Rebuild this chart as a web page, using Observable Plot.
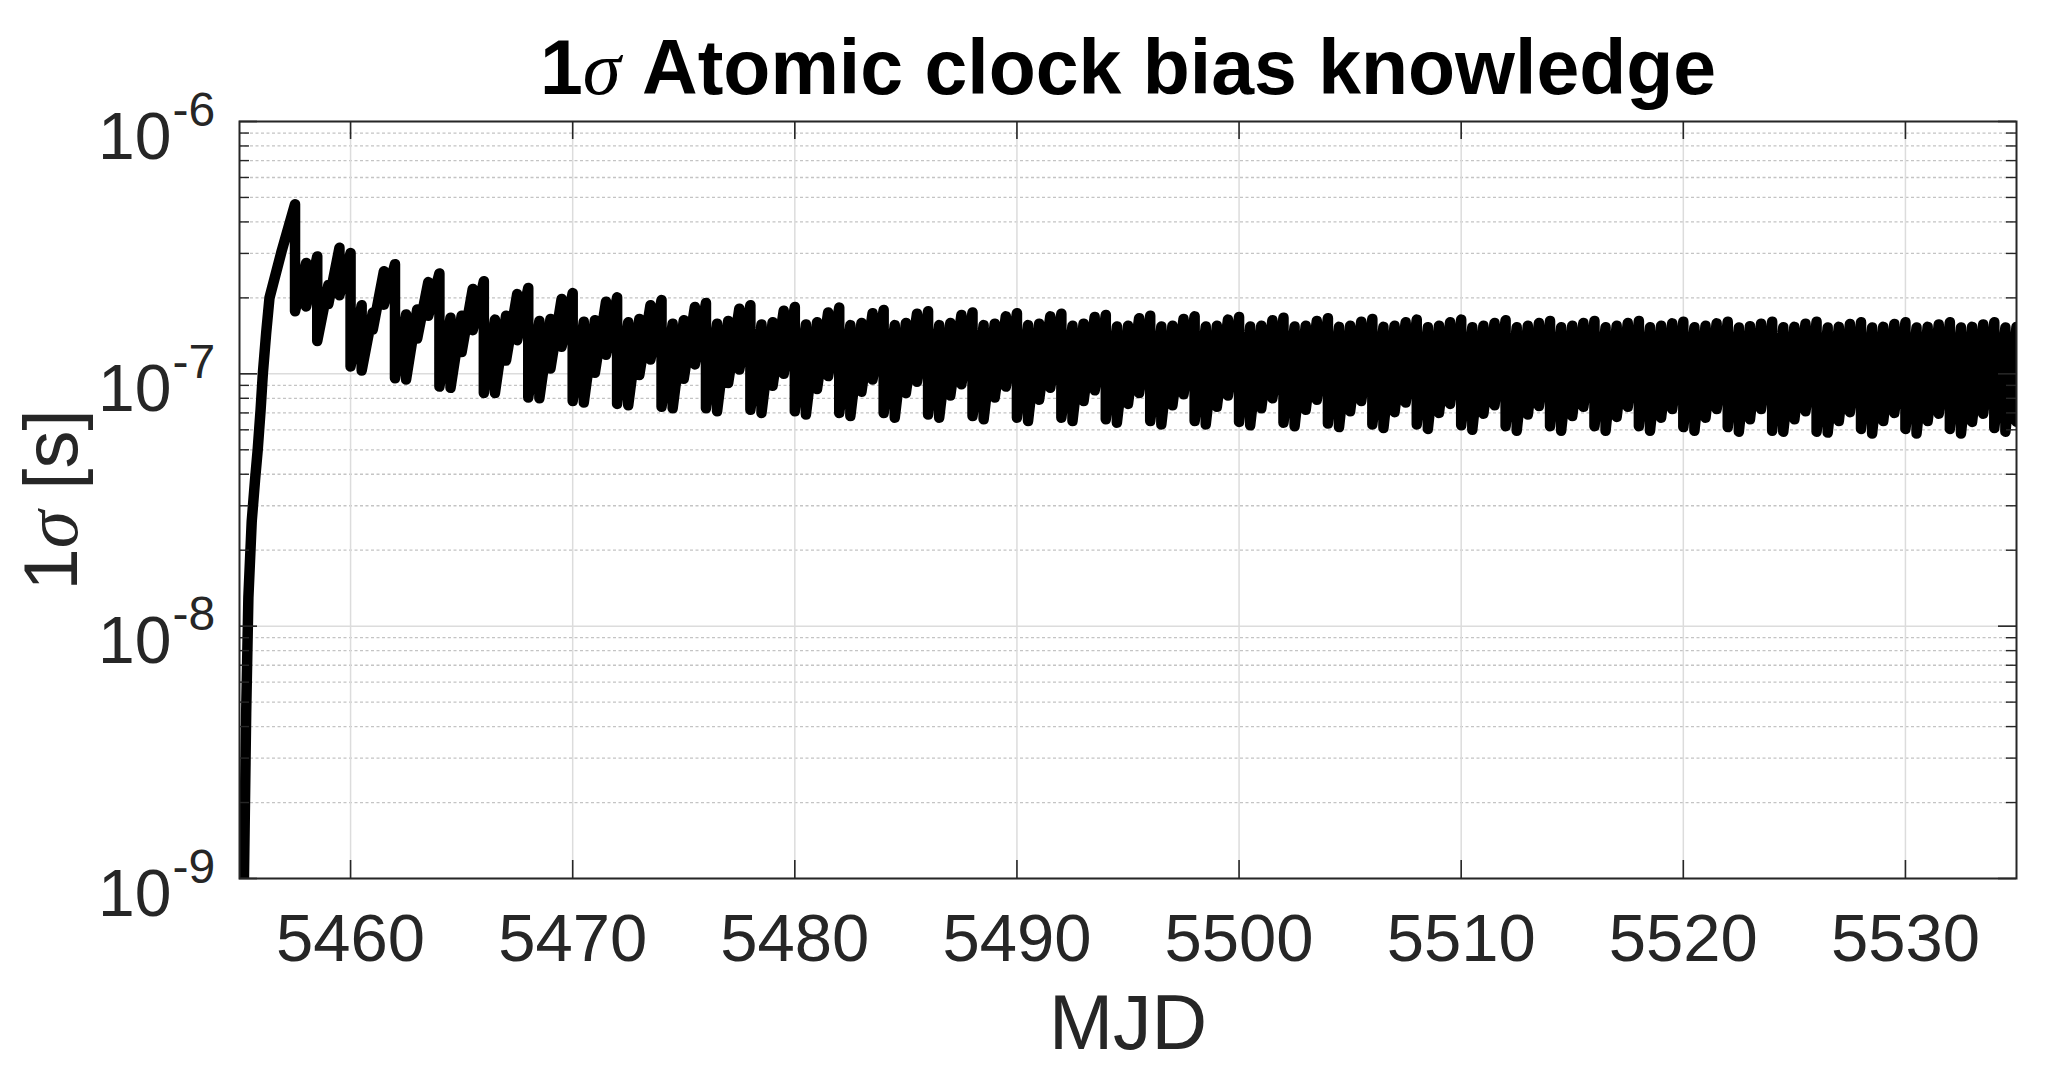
<!DOCTYPE html>
<html>
<head>
<meta charset="utf-8">
<script src="https://cdn.jsdelivr.net/npm/d3@7"></script>
<script src="https://cdn.jsdelivr.net/npm/@observablehq/plot@0.6"></script>
<style>
  html, body { margin: 0; padding: 0; background: #ffffff; }
  #chart svg { display: block; }
</style>
</head>
<body>
<div id="chart"></div>
<script>
// ---------------- DATA ----------------
const titleText = "1σ Atomic clock bias knowledge";
const xLabel = "MJD";
const yLabel = "1σ [s]";

// initial convergence (MJD, 1-sigma in s)
const transientMJD   = [5455.12, 5455.2, 5455.3, 5455.4, 5455.55, 5455.7, 5455.82, 5455.95, 5456.05, 5456.2, 5456.35, 5456.9];
const transientSigma = [4e-10, 1.0e-9, 4.5e-9, 1.3e-8, 2.6e-8, 3.8e-8, 5.0e-8, 7.2e-8, 1.0e-7, 1.45e-7, 2.0e-7, 3.07e-7];

// half-day update cycles: first update epoch and spacing (days)
const firstUpdateMJD = 5457.5;
const updateStep = 0.5;
// sigma just before each update (peak) and just after it (trough)
const peakSigma = [
  4.7e-7, 2.75e-7, 2.92e-7, 2.25e-7,
  3.16e-7, 3.01e-7, 1.87e-7, 1.75e-7,
  2.55e-7, 2.72e-7, 1.72e-7, 1.80e-7,
  2.31e-7, 2.50e-7, 1.67e-7, 1.70e-7,
  2.17e-7, 2.33e-7, 1.64e-7, 1.70e-7,
  2.07e-7, 2.19e-7, 1.62e-7, 1.65e-7,
  1.98e-7, 2.09e-7, 1.61e-7, 1.63e-7,
  1.93e-7, 2.01e-7, 1.60e-7, 1.65e-7,
  1.87e-7, 1.96e-7, 1.58e-7, 1.63e-7,
  1.84e-7, 1.91e-7, 1.58e-7, 1.62e-7,
  1.81e-7, 1.87e-7, 1.57e-7, 1.60e-7,
  1.78e-7, 1.84e-7, 1.57e-7, 1.60e-7,
  1.75e-7, 1.83e-7, 1.56e-7, 1.59e-7,
  1.74e-7, 1.79e-7, 1.56e-7, 1.59e-7,
  1.73e-7, 1.77e-7, 1.56e-7, 1.59e-7,
  1.71e-7, 1.75e-7, 1.56e-7, 1.58e-7,
  1.69e-7, 1.74e-7, 1.56e-7, 1.58e-7,
  1.69e-7, 1.73e-7, 1.55e-7, 1.58e-7,
  1.68e-7, 1.71e-7, 1.54e-7, 1.55e-7,
  1.66e-7, 1.70e-7, 1.54e-7, 1.55e-7,
  1.65e-7, 1.69e-7, 1.54e-7, 1.55e-7,
  1.64e-7, 1.68e-7, 1.54e-7, 1.55e-7,
  1.63e-7, 1.67e-7, 1.54e-7, 1.55e-7,
  1.62e-7, 1.66e-7, 1.535e-7, 1.55e-7,
  1.61e-7, 1.65e-7, 1.535e-7, 1.55e-7,
  1.60e-7, 1.64e-7, 1.53e-7, 1.55e-7,
  1.60e-7, 1.64e-7, 1.53e-7, 1.55e-7,
  1.59e-7, 1.63e-7, 1.53e-7, 1.55e-7,
  1.59e-7, 1.62e-7, 1.53e-7, 1.55e-7,
  1.59e-7, 1.62e-7, 1.53e-7, 1.55e-7,
  1.59e-7, 1.62e-7, 1.53e-7, 1.55e-7,
  1.585e-7, 1.61e-7, 1.53e-7, 1.55e-7,
  1.585e-7, 1.61e-7, 1.525e-7, 1.545e-7,
  1.58e-7, 1.61e-7, 1.53e-7, 1.535e-7,
  1.58e-7, 1.61e-7, 1.525e-7, 1.535e-7,
  1.575e-7, 1.60e-7, 1.525e-7, 1.535e-7,
  1.575e-7, 1.60e-7, 1.525e-7, 1.535e-7,
  1.57e-7, 1.60e-7, 1.525e-7, 1.535e-7,
  1.57e-7, 1.60e-7, 1.525e-7, 1.535e-7
];
const troughSigma = [
  1.77e-7, 1.85e-7, 1.35e-7, 1.89e-7,
  2.05e-7, 1.07e-7, 1.03e-7, 1.50e-7,
  1.88e-7, 9.6e-8, 9.5e-8, 1.38e-7,
  1.70e-7, 8.9e-8, 8.8e-8, 1.22e-7,
  1.49e-7, 8.4e-8, 8.4e-8, 1.13e-7,
  1.36e-7, 8.06e-8, 8.0e-8, 1.05e-7,
  1.28e-7, 7.8e-8, 7.7e-8, 1.01e-7,
  1.19e-7, 7.6e-8, 7.5e-8, 9.9e-8,
  1.14e-7, 7.4e-8, 7.3e-8, 9.56e-8,
  1.09e-7, 7.3e-8, 7.1e-8, 9.2e-8,
  1.04e-7, 7.2e-8, 7.0e-8, 8.97e-8,
  1.00e-7, 7.1e-8, 6.9e-8, 8.7e-8,
  9.8e-8, 7.0e-8, 6.8e-8, 8.5e-8,
  9.5e-8, 6.99e-8, 6.7e-8, 8.4e-8,
  9.3e-8, 6.9e-8, 6.7e-8, 8.2e-8,
  9.1e-8, 6.8e-8, 6.6e-8, 8.06e-8,
  8.9e-8, 6.7e-8, 6.5e-8, 7.9e-8,
  8.8e-8, 6.7e-8, 6.5e-8, 7.8e-8,
  8.6e-8, 6.6e-8, 6.4e-8, 7.6e-8,
  8.4e-8, 6.5e-8, 6.3e-8, 7.5e-8,
  8.3e-8, 6.5e-8, 6.3e-8, 7.4e-8,
  8.2e-8, 6.45e-8, 6.25e-8, 7.3e-8,
  8.0e-8, 6.4e-8, 6.2e-8, 7.2e-8,
  7.9e-8, 6.35e-8, 6.15e-8, 7.1e-8,
  7.8e-8, 6.3e-8, 6.1e-8, 7.05e-8,
  7.7e-8, 6.3e-8, 6.05e-8, 7.0e-8,
  7.6e-8, 6.25e-8, 6.0e-8, 6.95e-8,
  7.5e-8, 6.2e-8, 5.95e-8, 6.9e-8,
  7.45e-8, 6.2e-8, 5.95e-8, 6.8e-8,
  7.4e-8, 6.2e-8, 5.95e-8, 6.75e-8,
  7.4e-8, 6.2e-8, 5.95e-8, 6.7e-8,
  7.25e-8, 6.15e-8, 5.95e-8, 6.7e-8,
  7.25e-8, 6.15e-8, 5.9e-8, 6.6e-8,
  7.25e-8, 5.95e-8, 5.9e-8, 6.6e-8,
  7.1e-8, 5.9e-8, 5.85e-8, 6.5e-8,
  7.05e-8, 6.05e-8, 5.8e-8, 6.5e-8,
  7.0e-8, 6.05e-8, 5.8e-8, 6.5e-8,
  6.95e-8, 6.05e-8, 5.8e-8, 6.45e-8,
  6.95e-8, 6.1e-8, 5.9e-8, 6.45e-8
];
const endMJD = 5535.3;
const endSigma = 8.5e-8;

// axes
const xDomain = [5455, 5535];
const yDomain = [1e-9, 1e-6];
const xTicks = [5460, 5470, 5480, 5490, 5500, 5510, 5520, 5530];
const yTicks = [1e-9, 1e-8, 1e-7, 1e-6];
const yTickExponents = ["-9", "-8", "-7", "-6"];
const minorMantissas = [2, 3, 4, 5, 6, 7, 8, 9];
const minorDecades = [1e-9, 1e-8, 1e-7];

// ---------------- TABLE ----------------
const rows = [];
transientMJD.forEach((d, i) => rows.push({mjd: d, sigma: transientSigma[i]}));
peakSigma.forEach((p, i) => {
  const t = firstUpdateMJD + i * updateStep;
  rows.push({mjd: t, sigma: p});
  rows.push({mjd: t, sigma: troughSigma[i]});
});
rows.push({mjd: endMJD, sigma: endSigma});

const yMinor = [];
minorDecades.forEach(dec => minorMantissas.forEach(m => yMinor.push(m * dec)));
const expOf = new Map(yTicks.map((v, i) => [v, yTickExponents[i]]));

// ---------------- LAYOUT ----------------
const W = 2059, H = 1069;
const mL = 239, mR = 43, mT = 121, mB = 191;
const pw = W - mL - mR, ph = H - mT - mB;
const majorTick = 18, minorTick = 10;
const ink = "#262626";
const font = "'Liberation Sans', Arial, Helvetica, sans-serif";

const svg = Plot.plot({
  width: W,
  height: H,
  marginLeft: mL, marginRight: mR, marginTop: mT, marginBottom: mB,
  style: {fontFamily: font, background: "#ffffff", color: ink},
  x: {domain: xDomain, axis: null},
  y: {type: "log", domain: yDomain, axis: null},
  marks: [
    // grid
    Plot.ruleY(yMinor, {stroke: "#c4c4c4", strokeWidth: 1.3, strokeDasharray: "3,2.5"}),
    Plot.ruleY(yTicks, {stroke: "#dcdcdc", strokeWidth: 1.5}),
    Plot.ruleX(xTicks, {stroke: "#dcdcdc", strokeWidth: 1.5}),
    // data
    Plot.line(rows, {x: "mjd", y: "sigma", stroke: "#000000", strokeWidth: 10.5, strokeLinejoin: "round", strokeLinecap: "round", clip: true}),
    // inward ticks
    Plot.tickY(yTicks, {stroke: ink, strokeWidth: 1.6, insetRight: pw - majorTick}),
    Plot.tickY(yTicks, {stroke: ink, strokeWidth: 1.6, insetLeft: pw - majorTick}),
    Plot.tickY(yMinor, {stroke: ink, strokeWidth: 1.4, insetRight: pw - minorTick}),
    Plot.tickY(yMinor, {stroke: ink, strokeWidth: 1.4, insetLeft: pw - minorTick}),
    Plot.tickX(xTicks, {stroke: ink, strokeWidth: 1.6, insetTop: ph - majorTick}),
    Plot.tickX(xTicks, {stroke: ink, strokeWidth: 1.6, insetBottom: ph - majorTick}),
    Plot.frame({stroke: ink, strokeWidth: 2}),
    // x tick labels
    Plot.text(xTicks, {x: d => d, frameAnchor: "bottom", dy: 35, lineAnchor: "top", text: d => String(d), fontSize: 67, fill: ink}),
    // y tick labels: 10 with superscript exponent
    Plot.text(yTicks, {y: d => d, frameAnchor: "left", dx: -68, dy: 37, lineAnchor: "bottom", textAnchor: "end", text: () => "10", fontSize: 66, fill: ink}),
    Plot.text(yTicks, {y: d => d, frameAnchor: "left", dx: -67, dy: 4, lineAnchor: "bottom", textAnchor: "start", text: d => expOf.get(d), fontSize: 48, fill: ink}),
    // axis labels and title
    Plot.text([xLabel], {frameAnchor: "bottom", dy: 170, lineAnchor: "bottom", text: d => d, fontSize: 77, fill: ink}),
    Plot.text([yLabel], {frameAnchor: "left", dx: -187, rotate: -90, lineAnchor: "middle", textAnchor: "middle", text: d => d, fontSize: 76, fill: ink}),
    Plot.text([titleText], {frameAnchor: "top", dy: -28, lineAnchor: "bottom", text: d => d, fontSize: 77, fontWeight: "bold", fill: "#000000"})
  ]
});

document.getElementById("chart").append(svg);

// italic sigma (TeX-like) inside title and y label
d3.select(svg).selectAll("text").each(function () {
  const t = this.textContent;
  if (this.childElementCount === 0 && t.includes("σ")) {
    const parts = t.split("σ");
    this.textContent = "";
    const sel = d3.select(this);
    sel.append("tspan").text(parts[0]);
    sel.append("tspan").attr("font-style", "italic").attr("font-weight", "normal")
       .attr("font-family", "'Liberation Serif', 'DejaVu Serif', serif").text("σ");
    sel.append("tspan").text(parts.slice(1).join("σ"));
  }
});
</script>
</body>
</html>
